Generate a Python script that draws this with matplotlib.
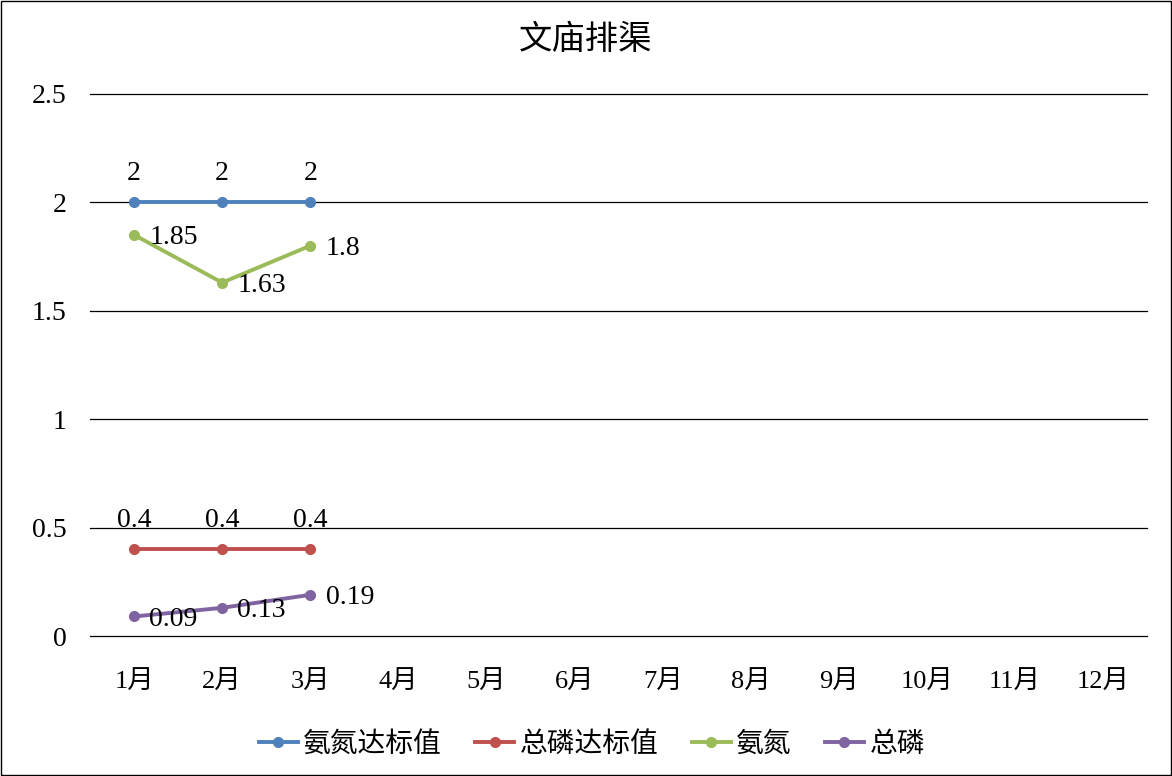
import matplotlib
matplotlib.use("Agg")
import matplotlib.pyplot as plt
from matplotlib.patches import Rectangle

plt.rcParams['font.family'] = ['Liberation Serif', 'Noto Sans CJK SC', 'DejaVu Sans']

months = ['1月', '2月', '3月', '4月', '5月', '6月', '7月', '8月', '9月', '10月', '11月', '12月']
nh3_std = [2, 2, 2]
tp_std = [0.4, 0.4, 0.4]
nh3 = [1.85, 1.63, 1.8]
tp = [0.09, 0.13, 0.19]
labels = ['氨氮达标值', '总磷达标值', '氨氮', '总磷']
colors = ['#4F81BD', '#C0504D', '#9BBB59', '#8064A2']

fig = plt.figure(figsize=(11.72, 7.76), dpi=100)
ax = fig.add_axes([0.0768, 0.1804, 0.902, 0.6985])

series = [nh3_std, tp_std, nh3, tp]
label_pos = ['above', 'above', 'right', 'right']
for vals, name, c, pos in zip(series, labels, colors, label_pos):
    xs = list(range(len(vals)))
    ax.plot(xs, vals, color=c, lw=2.8, marker='o', ms=7, label=name, zorder=3)
    for x, v in zip(xs, vals):
        txt = f'{v:g}'
        if pos == 'above':
            ax.annotate(txt, (x, v), xytext=(0, 12), textcoords='offset points',
                        ha='center', va='bottom', fontsize=20)
        else:
            ax.annotate(txt, (x, v), xytext=(11, -2), textcoords='offset points',
                        ha='left', va='center', fontsize=20)

ax.set_xlim(-0.5, 11.5)
ax.set_ylim(0, 2.5)
ax.set_xticks(range(len(months)))
ax.set_xticklabels(months, fontsize=19)
ax.set_yticks([0, 0.5, 1, 1.5, 2, 2.5])
ax.set_yticklabels(['0', '0.5', '1', '1.5', '2', '2.5'], fontsize=20)
ax.tick_params(axis='both', length=0)
ax.tick_params(axis='x', pad=25)
ax.tick_params(axis='y', pad=17)
for yv in [0, 0.5, 1, 1.5, 2, 2.5]:
    ax.axhline(yv, color='black', lw=0.9, clip_on=False, zorder=1)
for s in ax.spines.values():
    s.set_visible(False)

fig.text(0.5, 0.948, '文庙排渠', ha='center', va='center', fontsize=24)
fig.legend(loc='center', bbox_to_anchor=(0.505, 0.04), ncol=4, frameon=False,
           fontsize=20, handlelength=1.4, handletextpad=0.2, columnspacing=1.2)

fig.add_artist(Rectangle((0.001, 0.001), 0.998, 0.998, transform=fig.transFigure,
                         fill=False, edgecolor='black', lw=1))

fig.savefig('out.png', dpi=100)
